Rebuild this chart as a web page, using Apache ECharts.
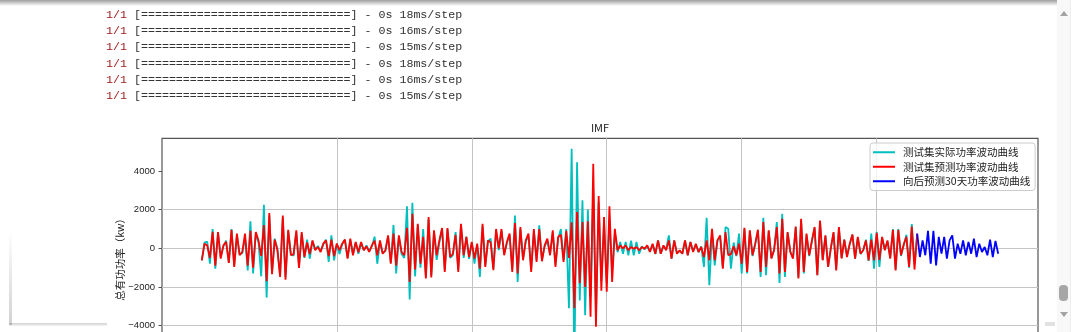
<!DOCTYPE html>
<html><head><meta charset="utf-8">
<script src="https://cdn.jsdelivr.net/npm/echarts@6/dist/echarts.min.js"></script>
<style>
html,body{margin:0;padding:0;width:1080px;height:332px;overflow:hidden;background:#fff;}
#chart{position:absolute;left:0;top:0;width:1080px;height:440px;}
#log{position:absolute;left:106px;top:6.8px;font-family:"Liberation Mono",monospace;font-size:11.65px;line-height:16.33px;color:#333;white-space:pre;z-index:2}
#log .n{color:#a02020}
#topshade{position:absolute;left:0;top:0;width:1057px;height:6px;background:linear-gradient(to bottom,rgba(0,0,0,0.38),rgba(0,0,0,0));z-index:3}
#track{position:absolute;left:1057px;top:0;width:13px;height:332px;background:#f8f8f8;border-right:1px solid #eeeeee;z-index:3}
#up{position:absolute;left:1060px;top:11px;width:0;height:0;border-left:4px solid transparent;border-right:4px solid transparent;border-bottom:5px solid #a3a3a3;z-index:4}
#down{position:absolute;left:1060px;top:312px;width:0;height:0;border-left:4px solid transparent;border-right:4px solid transparent;border-top:5px solid #a3a3a3;z-index:4}
#thumb{position:absolute;left:1059px;top:285px;width:9px;height:16px;border-radius:4px;background:#a6a6a6;z-index:4}
#corner{position:absolute;left:1045px;top:322px;width:10px;height:4px;background:#e2e2e2;z-index:3}
#lshade{position:absolute;left:9px;top:230px;width:3px;height:95px;background:linear-gradient(to bottom,rgba(0,0,0,0),rgba(0,0,0,0.18));z-index:1}
#bshade{position:absolute;left:9px;top:323px;width:98px;height:3px;background:linear-gradient(to bottom,rgba(0,0,0,0.18),rgba(0,0,0,0.04));z-index:1}
</style>
</head>
<body>
<div id="chart"></div>
<div id="log"></div>
<div id="topshade"></div>
<div id="track"></div>
<div id="up"></div>
<div id="down"></div>
<div id="thumb"></div>
<div id="corner"></div>
<div id="lshade"></div>
<div id="bshade"></div>
<script>
// ---- data ----
const stepTimes = [18, 16, 15, 18, 16, 15];
const xTicks = [0, 50, 100, 150, 200, 250, 300];
const yTicks = [-6000, -4000, -2000, 0, 2000, 4000];
const legendNames = ['测试集实际功率波动曲线', '测试集预测功率波动曲线', '向后预测30天功率波动曲线'];

// 测试集实际 (index 0..265)
const actual = [
 -620, 300, 350, -800, 1000, -1050, 800, -450, 100, 400,
 -760, 1000, -900, 700, -300, -250, 580, -1140, 1400, -1300,
 750, 300, -1450, 2250, -2550, 1700, -1250, 500, 0, -1400,
 1600, -1500, 900, -300, -380, 850, -950, 750, -500, 450,
 -530, 380, -50, 120, -150, 200, 450, -700, 670, -620,
 240, -300, 200, 450, -500, 450, -300, 300, -280, 250,
 -100, 150, -150, 100, 600, -800, 300, -250, -150, 600,
 -750, 1200, -1300, 600, -300, -500, 2170, -2650, 2360, -1450,
 1200, -1000, 1000, -1500, 1500, -1400, 850, -600, 300, 1000,
 -1150, 1000, -500, -350, 840, -1100, 1200, -500, 600, -550,
 300, -790, 200, -1480, 1150, -900, 350, 500, -1050, 900,
 -100, 900, -300, 250, 700, -1100, 1700, -1740, 1000, -550,
 350, 650, -1100, 900, -600, 1190, -600, 100, 400, -300,
 850, -850, 500, 1000, -600, 1000, -3100, 5150, -6030, 4450,
 -2700, 2480, -3460, 2000, -2500, 3000, -3500, 2400, -1700, 1300,
 -1800, 1500, -1200, 800, -200, 330, -280, 330, -360, 400,
 -360, 330, -280, 100, -50, 100, -150, 200, -300, 410,
 -280, 100, -50, 670, -530, 410, -250, -150, -280, 410,
 -360, 330, -150, 200, -200, 100, -960, 1580, -1910, 800,
 -880, 400, 600, -1000, 1100, 1010, -1050, 300, -400, 760,
 -1300, 1000, -1300, 900, -400, 200, 900, -1480, 1580, -1390,
 900, -500, -50, 1360, -1790, 1790, -1480, 800, -150, -500,
 1100, -1500, 1450, -1300, 700, -400, 350, 1050, -1390, 1400,
 -600, 650, -950, 0, 800, -1100, 1050, -500, 450, -400,
 200, 700, -550, 550, -300, -100, 450, -650, 760, -1050,
 850, -960, 550, -50, 350, -500, 1000, -1100, 1000, -400,
 150, 700, -1000, 1250, -800, 700
];

// 测试集预测 (index 0..265)
const predicted = [
 -620, 240, 150, -500, 850, -900, 840, -530, 150, 330,
 -760, 960, -960, 760, -360, -190, 760, -900, 900, -1000,
 840, 400, -400, 1200, -1700, 1820, -1340, 450, -100, -1480,
 1700, -1620, 960, -360, -300, 930, -1010, 840, -450, 300,
 -300, 410, -100, 70, -190, 240, 410, -400, 450, -400,
 240, -100, 240, 450, -530, 500, -360, 330, -200, 330,
 -100, 100, -190, 150, 400, -360, 410, -280, -100, 670,
 -800, 760, -900, 670, -190, -360, 1060, -1740, 1790, -1100,
 1270, -790, 590, -1560, 1620, -1510, 930, -360, 410, 1050,
 -1220, 1050, -450, -280, 700, -1220, 1270, -360, 590, -450,
 330, -530, 240, -1050, 1270, -960, 410, 300, -1130, 1000,
 0, 1000, -360, 330, 760, -1220, 1300, -1300, 1100, -620,
 410, 760, -1220, 1000, -700, 1000, -670, 150, 500, -360,
 930, -960, 590, 700, -700, 900, -500, 1350, -3100, 1870,
 -1800, 1360, -2000, 1400, -3540, 4370, -4060, 2700, -2200, 1620,
 -2250, 2170, -1740, 1010, -100, 150, 0, 150, -100, 70,
 -20, 70, -100, 70, -20, 150, -190, 240, -280, 410,
 -280, 150, -100, 410, -530, 410, -280, -100, -280, 410,
 -360, 330, -190, 240, -190, 70, -450, 410, -620, 1010,
 -620, 410, 670, -1050, 840, -360, -300, 100, -360, 240,
 -800, 1060, -1220, 930, -360, 240, 960, -1220, 1360, -960,
 930, -530, -100, 1100, -1300, 1530, -1220, 840, -190, -530,
 1130, -1560, 1530, -1220, 760, -360, 410, 1100, -1390, 1440,
 -620, 670, -960, 0, 840, -1140, 1100, -530, 450, -450,
 240, 720, -530, 590, -280, -100, 410, -620, 450, -620,
 800, -600, 590, -100, 410, -530, 960, -1140, 960, -360,
 200, 590, -960, 1130, -1100, 760
];

// 向后预测30天 (starts at index 265, joined to the last test point)
const forecastStart = 265;
const forecast = [
 760, -450, 410, -360, 900, -800, 900, -880, 590, -280,
 590, -530, 410, 670, -530, 240, -280, 410, -360, 330,
 -280, 500, -450, 240, -190, 70, -360, 450, -450, 380,
 -280
];

// ---- text log ----
document.getElementById('log').innerHTML = stepTimes.map(t =>
  '<span class="n">1/1</span> [' + '='.repeat(30) + '] - 0s ' + t + 'ms/step').join('\n');

// ---- chart ----
const fmtNum = v => (v < 0 ? '\u2212' + Math.abs(v) : String(v));
const chart = echarts.init(document.getElementById('chart'), null, {renderer: 'canvas'});
chart.setOption({
  animation: false,
  backgroundColor: 'transparent',
  title: {
    text: 'IMF', left: 600, top: 122, textAlign: 'center', padding: 0,
    textStyle: {fontFamily: '"Noto Sans CJK SC"', fontSize: 11, fontWeight: 'normal', color: '#222'}
  },
  legend: {
    data: legendNames,
    orient: 'vertical',
    left: 870, top: 143,
    padding: [4, 5, 4, 3],
    itemGap: 4,
    itemWidth: 22, itemHeight: 2,
    icon: 'rect',
    backgroundColor: 'rgba(255,255,255,0.8)',
    borderColor: '#cccccc', borderWidth: 1, borderRadius: 3,
    textStyle: {fontFamily: '"Noto Sans CJK SC"', fontSize: 10.5, color: '#222', padding: [0, 0, 0, 3]},
    z: 10
  },
  grid: {
    left: 162, right: 42, top: 138.3, bottom: 64.3,
    show: true, borderColor: '#555', borderWidth: 1.2, backgroundColor: 'transparent',
    containLabel: false, outerBoundsMode: 'none'
  },
  xAxis: {
    type: 'value', min: -14.75, max: 309.75, splitNumber: 6, position: 'bottom',
    axisLine: {show: false, onZero: false},
    axisTick: {show: true, customValues: xTicks, length: 3.5, lineStyle: {color: '#555'}},
    axisLabel: {customValues: xTicks, fontFamily: '"Liberation Sans"', fontSize: 9.5, color: '#222', margin: 7,
      formatter: v => (v % 50 === 0 ? fmtNum(v) : '')},
    splitLine: {show: true, showMinLine: false, showMaxLine: false, lineStyle: {color: '#c4c4c4', width: 1}}
  },
  yAxis: {
    type: 'value', min: -6590, max: 5690, splitNumber: 6, position: 'left',
    name: '总有功功率（kw）', nameLocation: 'middle', nameGap: 37, nameRotate: 90, nameMoveOverlap: false,
    nameTextStyle: {fontFamily: '"Noto Sans CJK SC"', fontSize: 10.5, color: '#222'},
    axisLine: {show: false, onZero: false},
    axisTick: {show: true, customValues: yTicks, length: 3.5, lineStyle: {color: '#555'}},
    axisLabel: {customValues: yTicks, fontFamily: '"Liberation Sans"', fontSize: 9.5, color: '#222', margin: 7,
      formatter: v => (v % 2000 === 0 ? fmtNum(v) : '')},
    splitLine: {show: true, showMinLine: false, showMaxLine: false, lineStyle: {color: '#c4c4c4', width: 1}}
  },
  series: [
    {name: legendNames[0], type: 'line', color: '#00bfbf', showSymbol: false, symbol: 'none', clip: true,
     lineStyle: {width: 1.8, color: '#00bfbf'}, itemStyle: {color: '#00bfbf'},
     data: actual.map((v, i) => [i, v]), z: 2},
    {name: legendNames[1], type: 'line', color: '#ff0000', showSymbol: false, symbol: 'none', clip: true,
     lineStyle: {width: 1.8, color: '#ff0000'}, itemStyle: {color: '#ff0000'},
     data: predicted.map((v, i) => [i, v]), z: 3},
    {name: legendNames[2], type: 'line', color: '#0000ff', showSymbol: false, symbol: 'none', clip: true,
     lineStyle: {width: 1.8, color: '#0000ff'}, itemStyle: {color: '#0000ff'},
     data: forecast.map((v, i) => [forecastStart + i, v]), z: 4}
  ]
});
</script>
</body></html>
